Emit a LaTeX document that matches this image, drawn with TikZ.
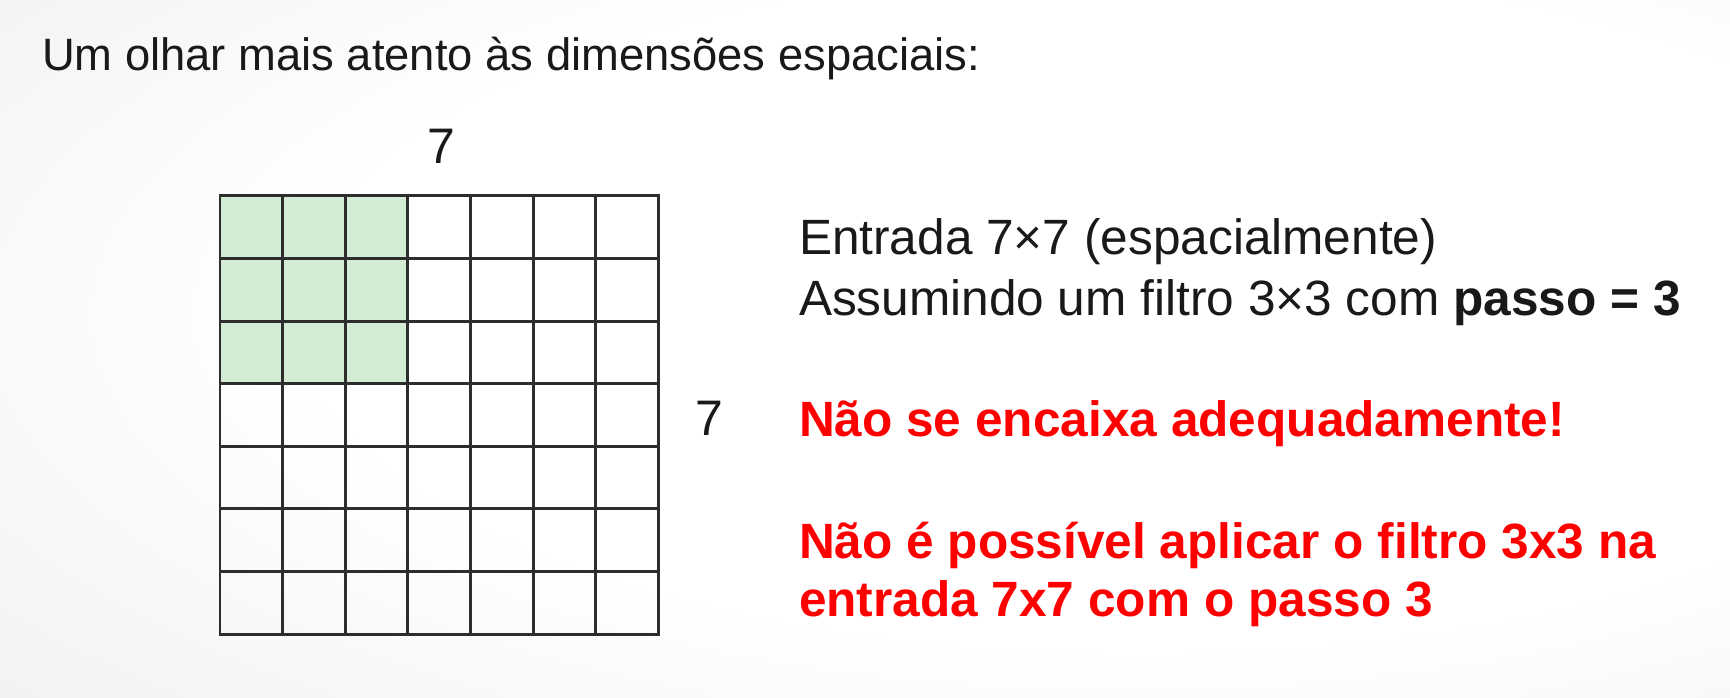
\documentclass[tikz,border=0pt]{standalone}
\usepackage{fontspec}
\setmainfont{Liberation Sans}
\definecolor{filtergreen}{RGB}{211,236,211}
\definecolor{warnred}{RGB}{255,0,0}
\definecolor{gridgray}{RGB}{45,45,45}
\pgfdeclareradialshading{slideglow}{\pgfpoint{12bp}{4bp}}{color(0bp)=(white);color(24bp)=(white);color(50bp)=(black!8);color(75bp)=(black!15)}
\begin{document}
\begin{tikzpicture}[x=0.01cm,y=-0.01cm,inner sep=0pt,outer sep=0pt,
bodytext/.style={anchor=base west,font=\fontsize{14.1}{17}\selectfont,text=black!90},
warntext/.style={bodytext,font=\fontsize{14.1}{17}\selectfont\bfseries,text=warnred},
dimlabel/.style={anchor=base,font=\fontsize{14.2}{17}\selectfont,text=black!90},
cellline/.style={draw=gridgray,line width=0.85pt,line cap=rect}]
\useasboundingbox (0,0) rectangle (1730,698);
\shade[shading=slideglow] (0,0) rectangle (1730,698);
% filter window and input grid
\fill[filtergreen] (220,196) rectangle (220+3*62.6,196+3*62.6);
\foreach \k in {0,...,7}{
  \draw[cellline] (220+62.6*\k,196) -- (220+62.6*\k,196+7*62.6);
  \draw[cellline] (220,196+62.6*\k) -- (220+7*62.6,196+62.6*\k);
}
\node[bodytext,font=\fontsize{12.9}{15}\selectfont] (title) at (42,71) {Um olhar mais atento às dimensões espaciais:};
\node[dimlabel] (dimtop) at (441,164) {7};
\node[dimlabel,anchor=base west] (dimright) at (695,436) {7};
\node[bodytext] (entrada) at (799,255) {Entrada 7×7 (espacialmente)};
\node[bodytext] (filtro) at (799,316) {Assumindo um filtro 3×3 com \textbf{passo = 3}};
\node[warntext] (encaixa) at (799,437) {Não se encaixa adequadamente!};
\node[warntext] (naoposs) at (799,559) {Não é possível aplicar o filtro 3x3 na};
\node[warntext] (entrada2) at (799,617) {entrada 7x7 com o passo 3};
\end{tikzpicture}
\end{document}
